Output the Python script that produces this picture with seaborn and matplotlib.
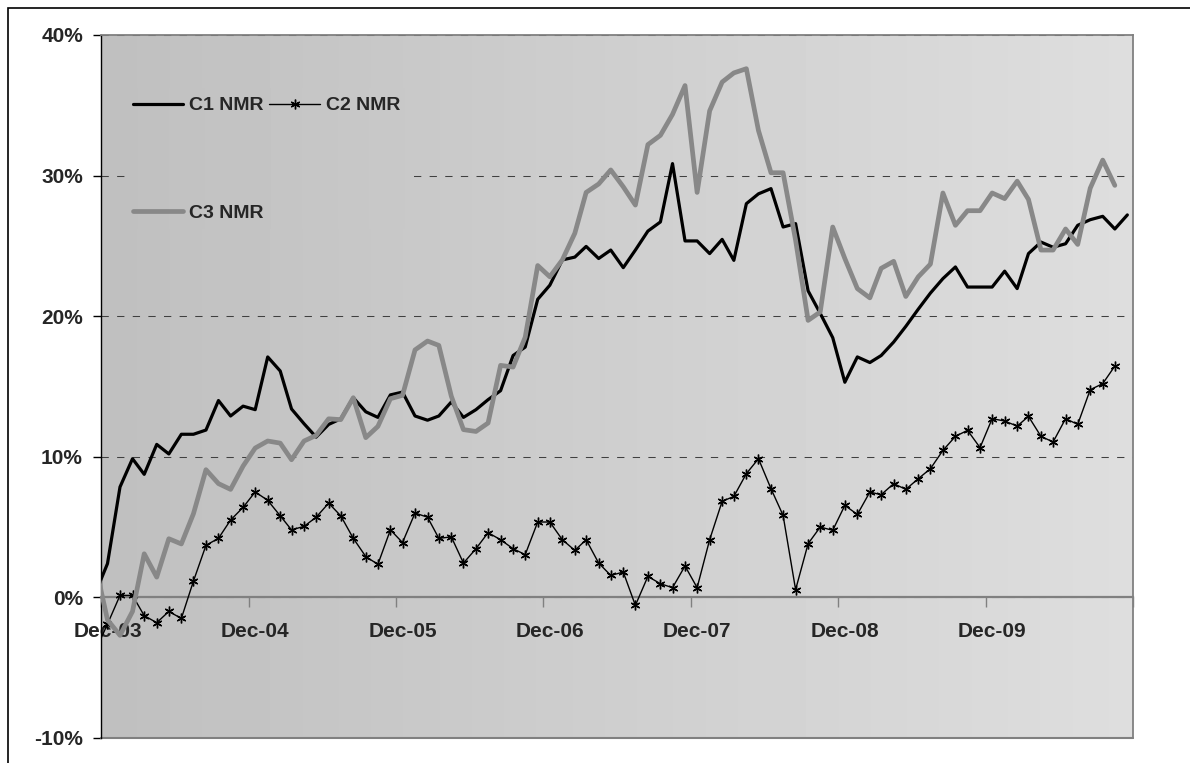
import numpy as np
import pandas as pd
import matplotlib.pyplot as plt
from matplotlib.patches import Rectangle
import seaborn as sns

# Monthly observations Nov-03 .. Nov-10, values in %
months = pd.date_range('2003-11-01', '2010-11-01', freq='MS') + pd.Timedelta(days=16)

c1_nmr = [0.3, 2.4, 7.85, 9.86, 8.75, 10.88, 10.2, 11.6, 11.6, 11.9, 14.0, 12.9, 13.6,
          13.35, 17.1, 16.1, 13.4, 12.35, 11.4, 12.3, 12.7, 14.2, 13.2, 12.8, 14.4,
          14.6, 12.9, 12.6, 12.9, 13.9, 12.8, 13.35, 14.06, 14.7, 17.2, 17.8, 21.2,
          22.2, 24.0, 24.2, 24.96, 24.1, 24.7, 23.45, 24.7, 26.05, 26.7, 30.85, 25.35,
          25.35, 24.45, 25.46, 23.97, 28.0, 28.7, 29.07, 26.34, 26.58, 21.8, 20.2, 18.47,
          15.3, 17.1, 16.7, 17.2, 18.16, 19.27, 20.5, 21.64, 22.67, 23.5, 22.07, 22.07,
          22.07, 23.2, 21.96, 24.45, 25.27, 24.9, 25.15, 26.46, 26.86, 27.1, 26.2, 27.2]

c2_nmr = [-3.8, -1.9, 0.14, 0.14, -1.3, -1.8, -1.0, -1.5, 1.16, 3.7, 4.2, 5.5, 6.4,
          7.5, 6.9, 5.8, 4.8, 5.05, 5.7, 6.7, 5.8, 4.2, 2.9, 2.35, 4.8,
          3.9, 6.0, 5.7, 4.2, 4.3, 2.44, 3.46, 4.6, 4.1, 3.46, 3.04, 5.36,
          5.36, 4.1, 3.34, 4.1, 2.44, 1.56, 1.8, -0.57, 1.49, 0.97, 0.69, 2.23,
          0.69, 4.1, 6.83, 7.18, 8.8, 9.86, 7.73, 5.83, 0.55, 3.82, 5.0, 4.77,
          6.54, 5.9, 7.49, 7.3, 8.09, 7.68, 8.44, 9.15, 10.45, 11.45, 11.88, 10.65,
          12.71, 12.54, 12.18, 12.87, 11.45, 11.05, 12.71, 12.3, 14.77, 15.2, 16.45]

c3_nmr = [2.3, -1.6, -2.7, -1.0, 3.1, 1.44, 4.17, 3.8, 5.95, 9.08, 8.09, 7.68, 9.34,
          10.62, 11.12, 10.97, 9.79, 11.12, 11.52, 12.7, 12.64, 14.2, 11.36, 12.16, 14.13,
          14.37, 17.6, 18.23, 17.92, 14.3, 11.93, 11.8, 12.4, 16.5, 16.38, 18.5, 23.6,
          22.8, 24.0, 25.9, 28.8, 29.4, 30.4, 29.2, 27.9, 32.2, 32.86, 34.35, 36.4,
          28.8, 34.6, 36.65, 37.3, 37.6, 33.2, 30.2, 30.2, 25.4, 19.7, 20.3, 26.34,
          24.1, 21.96, 21.3, 23.4, 23.9, 21.4, 22.8, 23.7, 28.76, 26.46, 27.5, 27.5,
          28.76, 28.36, 29.6, 28.3, 24.7, 24.7, 26.2, 25.1, 29.1, 31.1, 29.3]

year_ticks = pd.to_datetime(['2003-12-01', '2004-12-01', '2005-12-01', '2006-12-01',
                             '2007-12-01', '2008-12-01', '2009-12-01', '2010-12-01'])
tick_labels = ['Dec-03', 'Dec-04', 'Dec-05', 'Dec-06', 'Dec-07', 'Dec-08', 'Dec-09']
y_ticks = [-10, 0, 10, 20, 30, 40]

sns.set_style('white')
plt.rcParams['font.family'] = ['Liberation Sans', 'DejaVu Sans']
plt.rcParams['font.weight'] = 'bold'

fig = plt.figure(figsize=(11.9, 7.63), dpi=100)
rect = [0.0849, 0.0328, 0.8672, 0.9214]

# gradient plot area (dark at left, light at right)
g_lo, g_hi = 0.75, 0.87
ax_bg = fig.add_axes(rect, zorder=0)
ax_bg.imshow(np.tile(np.linspace(g_lo, g_hi, 256), (2, 1)), cmap='gray',
             vmin=0, vmax=1, aspect='auto')
ax_bg.axis('off')

ax = fig.add_axes(rect, zorder=1)
ax.set_facecolor('none')

sns.lineplot(x=months, y=c1_nmr, color='black', linewidth=2.3, ax=ax, zorder=3,
             label='C1 NMR')
sns.lineplot(x=months[:len(c2_nmr)], y=c2_nmr, color='black', linewidth=1.0,
             marker=(6, 2, 0), markersize=7, markeredgecolor='black',
             markeredgewidth=1, ax=ax, zorder=3, label='C2 NMR')
sns.lineplot(x=months[:len(c3_nmr)], y=c3_nmr, color='#888888', linewidth=3.4,
             ax=ax, zorder=4, label='C3 NMR')

ax.set_xlim(year_ticks[0], year_ticks[-1])
ax.set_ylim(-10, 40)
ax.set_xlabel('')
ax.set_ylabel('')

ax.set_yticks(y_ticks, labels=[f'{v}%' for v in y_ticks])
ax.tick_params(axis='y', direction='out', length=6, width=1, color='black',
               pad=7, labelsize=15, left=True)

ax.set_xticks(year_ticks, labels=[''] * len(year_ticks))
ax.set_xticks(year_ticks[:-1] + pd.Timedelta(days=16), labels=tick_labels, minor=True)
ax.tick_params(axis='x', which='major', direction='out', length=7, width=1,
               color='#808080', bottom=True)
ax.tick_params(axis='x', which='minor', length=0, pad=18, labelsize=15)

ax.grid(axis='y', color='#404040', linestyle=(0, (7, 8)), linewidth=0.75)
ax.grid(axis='x', visible=False)

for side in ['top', 'right']:
    ax.spines[side].set_color('#808080')
    ax.spines[side].set_linewidth(1.3)
ax.spines['left'].set_color('black')
ax.spines['left'].set_linewidth(1.0)
ax.spines['bottom'].set_position(('data', 0))
ax.spines['bottom'].set_color('#808080')
ax.spines['bottom'].set_linewidth(1.6)
ax.axhline(-10, color='#808080', linewidth=1.5, clip_on=False)

h, l = ax.get_legend_handles_labels()
order = [0, 2, 1]
leg = ax.legend([h[i] for i in order], [l[i] for i in order], ncol=2, loc='upper left',
                bbox_to_anchor=(0.023, 0.923), borderaxespad=0, frameon=False,
                fontsize=14, handlelength=2.6, handletextpad=0.3, columnspacing=0.3,
                labelspacing=4.6, borderpad=0.4)

# the legend box hides the gridlines behind it, filled with the same gradient
fig.canvas.draw()
bb = leg.get_window_extent().transformed(ax.transAxes.inverted())
ax.imshow(np.tile(np.linspace(g_lo + (g_hi - g_lo) * bb.x0,
                              g_lo + (g_hi - g_lo) * bb.x1, 64), (2, 1)),
          cmap='gray', vmin=0, vmax=1, aspect='auto',
          extent=[bb.x0, bb.x1, bb.y0, bb.y1], transform=ax.transAxes, zorder=2)
ax.set_xlim(year_ticks[0], year_ticks[-1])
ax.set_ylim(-10, 40)

# chart-area border
fig.add_artist(Rectangle((0.0071, -0.5), 2, 1.4889, transform=fig.transFigure,
                         fill=False, edgecolor='black', linewidth=1.2))

fig.savefig('out.png', dpi=100)
